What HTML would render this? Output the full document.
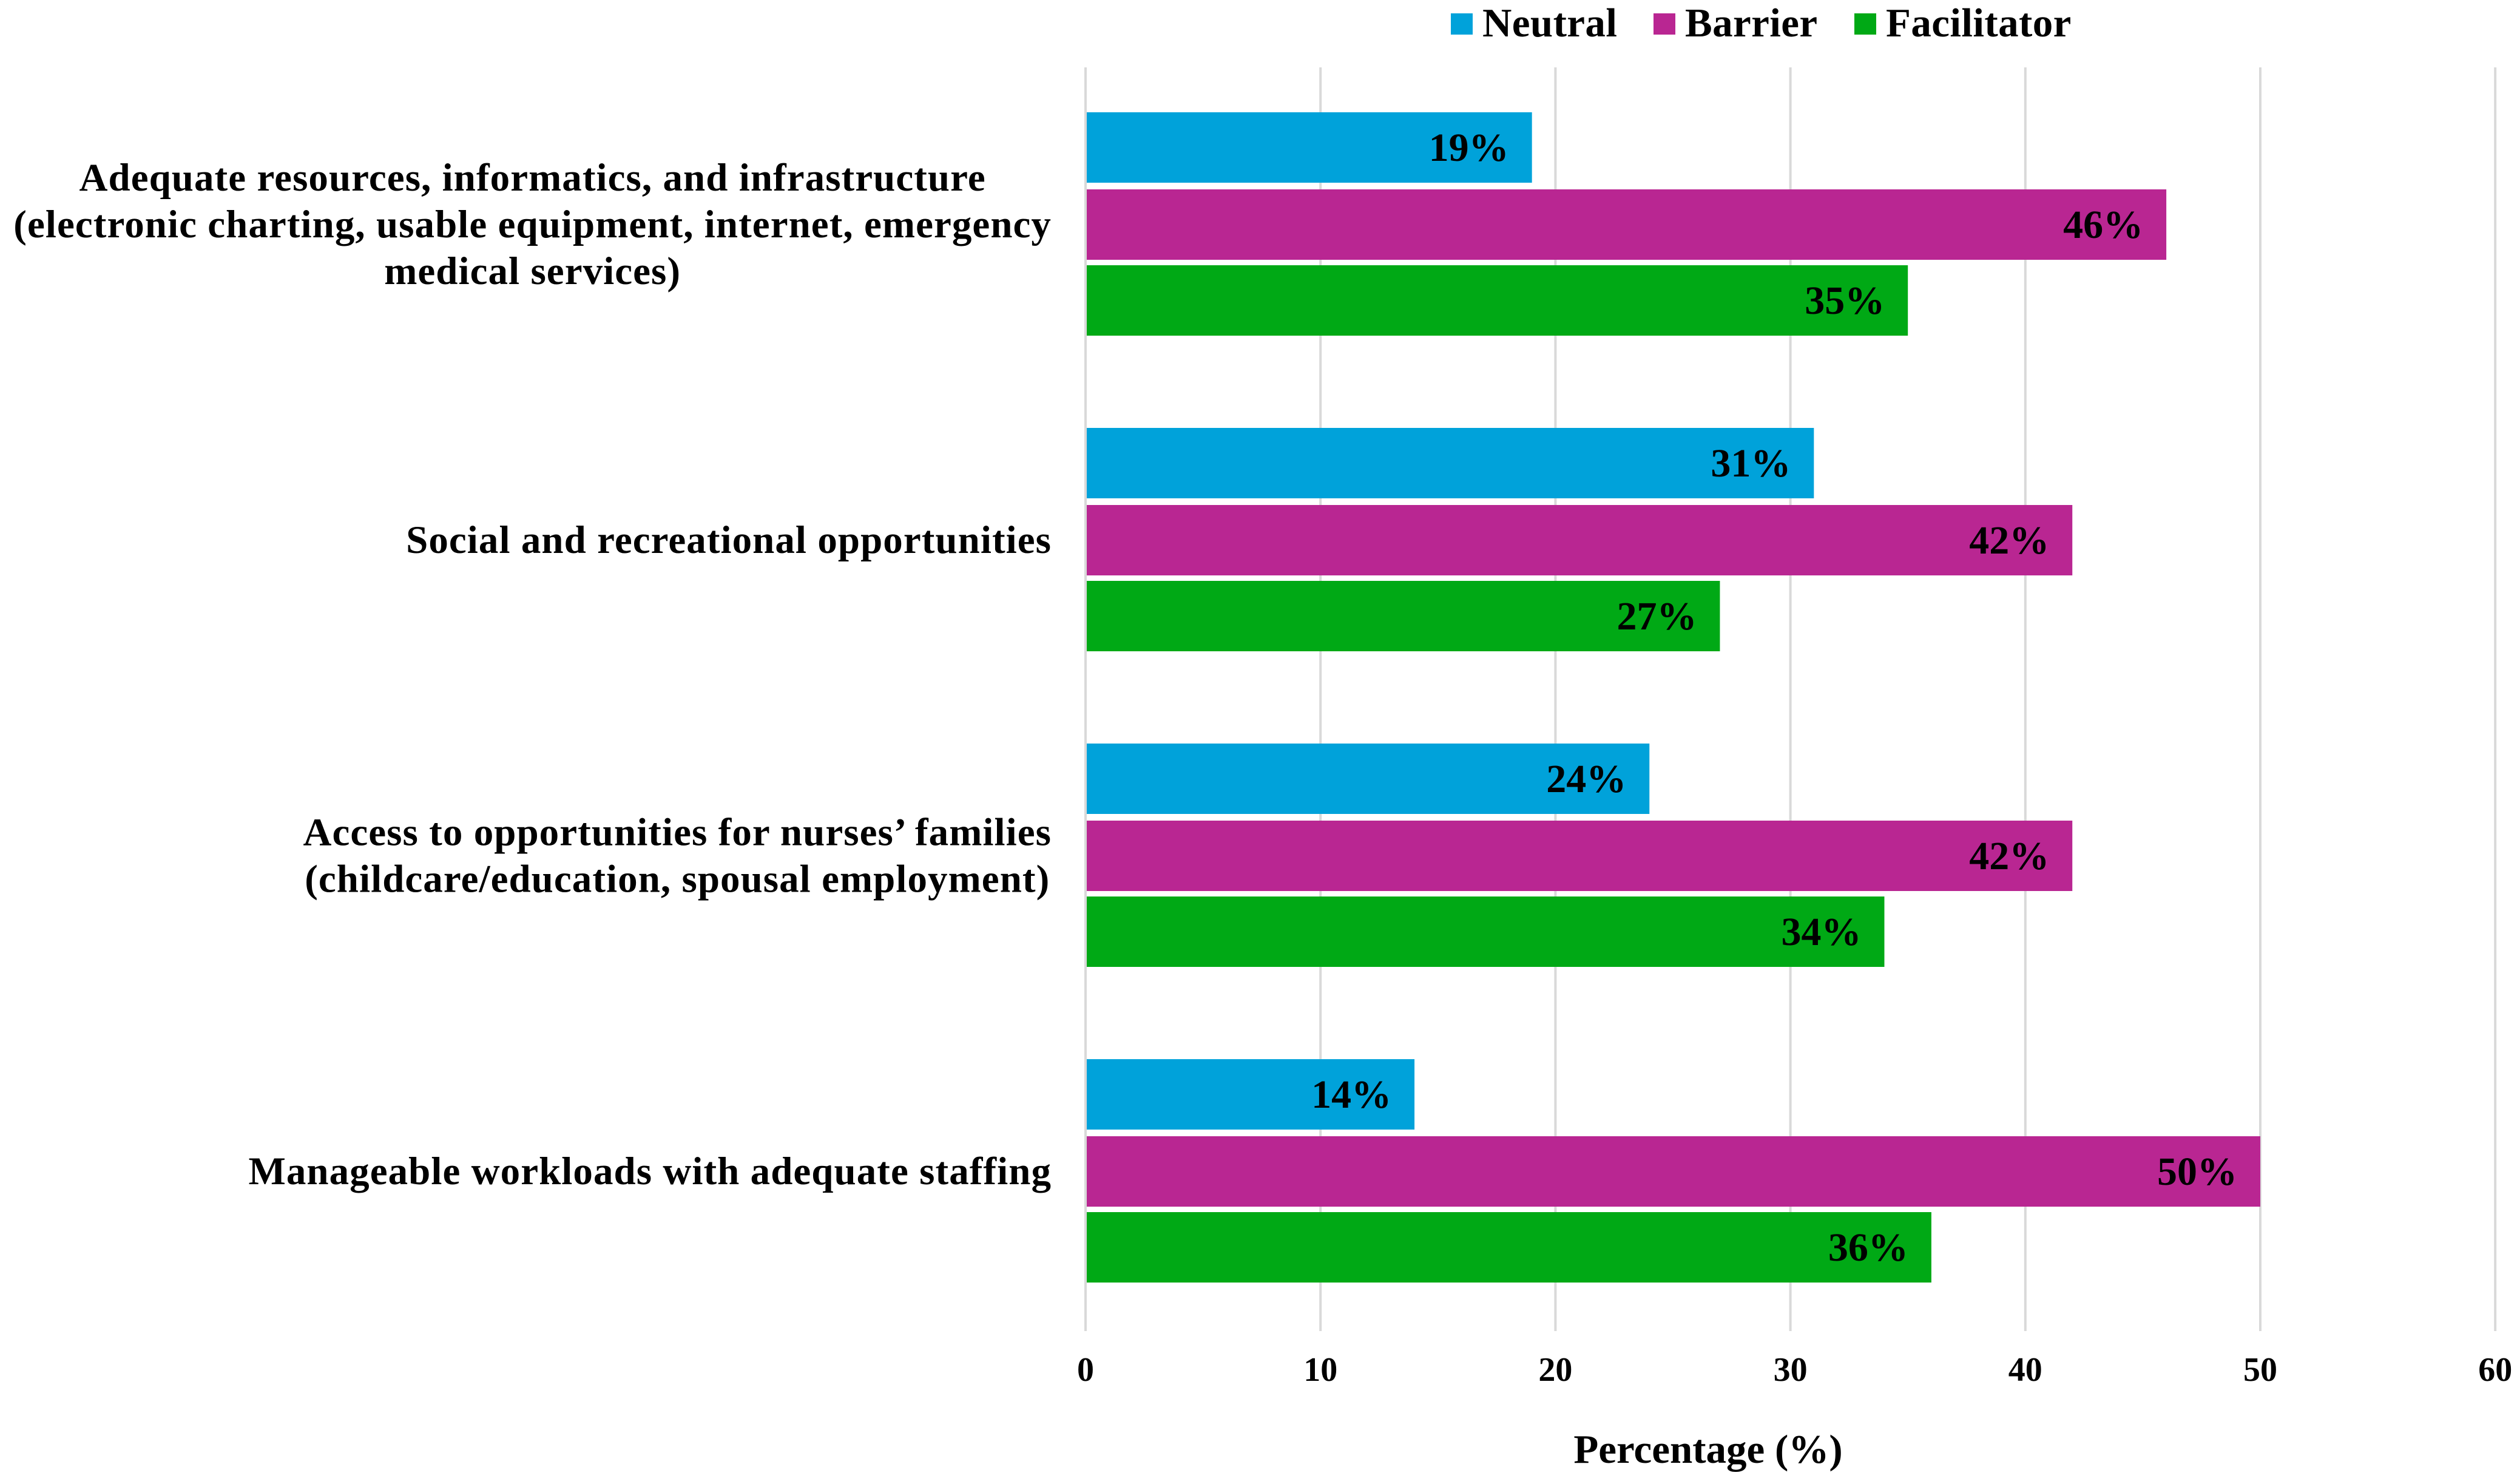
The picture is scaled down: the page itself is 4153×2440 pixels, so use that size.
<!DOCTYPE html>
<html lang="en">
<head>
<meta charset="utf-8">
<title>Barriers and facilitators chart</title>
<style>
html,body{margin:0;padding:0;background:#fff;width:4153px;height:2440px;overflow:hidden}
svg{display:block}
text{font-family:"Liberation Serif","Times New Roman",serif;font-weight:700;fill:#000}
</style>
</head>
<body>
<svg id="chart" xmlns="http://www.w3.org/2000/svg" width="4153" height="2440" viewBox="0 0 4153 2440">
  <g id="grid"></g>
  <g id="bars"></g>
  <g id="ylabels"></g>
  <g id="xticks"></g>
  <text x="2815" y="2410" font-size="67" text-anchor="middle">Percentage (%)</text>
  <g id="legend"></g>
</svg>
<script>
const categoryLines = [
  ["Adequate resources, informatics, and infrastructure", "(electronic charting, usable equipment, internet, emergency", "medical services)"],
  ["Social and recreational opportunities"],
  ["Access to opportunities for nurses\u2019 families", "(childcare/education, spousal employment)"],
  ["Manageable workloads with adequate staffing"]
];
const seriesNames = ["Neutral", "Barrier", "Facilitator"];
const neutralValues = [19, 31, 24, 14];
const barrierValues = [46, 42, 42, 50];
const facilitatorValues = [35, 27, 34, 36];
const tickValues = [0, 10, 20, 30, 40, 50, 60];

const seriesValues = [neutralValues, barrierValues, facilitatorValues];
const seriesColors = ["#00A2DA", "#B92692", "#00A915"];
const NS = "http://www.w3.org/2000/svg";

function xScale(v) { return 1789 + 38.72 * v; }
function groupTop(i) { return 185 + 520 * i; }
function barTop(i, s) { return groupTop(i) + 126 * s + (s === 1 ? 1 : 0); }
const barHeight = 116;

function make(parent, tag) {
  const el = document.createElementNS(NS, tag);
  parent.appendChild(el);
  return el;
}
function setAll(el, attrs) {
  for (const k in attrs) el.setAttribute(k, attrs[k]);
}

const gridG = document.getElementById("grid");
const tickG = document.getElementById("xticks");
tickValues.forEach(function (t) {
  const line = make(gridG, "line");
  
  
  setAll(line, { x1: xScale(t), x2: xScale(t), y1: 111, y2: 2193, stroke: "#D9D9D9", "stroke-width": 4 });
  const label = make(tickG, "text");
  
  
  setAll(label, { x: xScale(t), y: 2275, "font-size": 56, "text-anchor": "middle" });
  label.textContent = t;
});

const barsG = document.getElementById("bars");
seriesValues.forEach(function (vals, s) {
  vals.forEach(function (v, i) {
    const rect = make(barsG, "rect");
    
    
    setAll(rect, { x: 1791, y: barTop(i, s), width: xScale(v) - 1791, height: barHeight, fill: seriesColors[s] });
    const lab = make(barsG, "text");
    
    
    setAll(lab, { x: xScale(v) - 38, y: barTop(i, s) + barHeight / 2 + 22, "font-size": 66, "text-anchor": "end" });
    lab.textContent = v + "%";
  });
});

const yG = document.getElementById("ylabels");
categoryLines.forEach(function (lines, i) {
  const centre = groupTop(i) + 184;
  const maxRight = 1733;
  const t = make(yG, "text");
  
  
  t.setAttribute("font-size", 65);
  t.setAttribute("letter-spacing", "1.05");
  yG.appendChild(t);
  lines.forEach(function (ln, j) {
    const sp = make(t, "tspan");
    sp.setAttribute("y", centre + 22 + (j - (lines.length - 1) / 2) * 77);
    sp.setAttribute("x", 0);
    sp.textContent = ln;
  });
  // centre the lines on each other, then right-align the block at the axis gutter
  const spans = Array.from(t.children);
  const widths = spans.map(function (sp) { return sp.getComputedTextLength(); });
  const w = Math.max.apply(null, widths);
  spans.forEach(function (sp, j) {
    sp.setAttribute("x", maxRight - w + (w - widths[j]) / 2);
  });
});

const legendG = document.getElementById("legend");
const legendSwatchX = [2391, 2725, 3056];
seriesNames.forEach(function (name, s) {
  const sw = make(legendG, "rect");
  
  
  setAll(sw, { x: legendSwatchX[s], y: 22, width: 36, height: 35, fill: seriesColors[s] });
  const tx = make(legendG, "text");
  
  
  setAll(tx, { x: legendSwatchX[s] + 52, y: 60, "font-size": 67, "letter-spacing": "0.4" });
  tx.textContent = name;
});
</script>
</body>
</html>
